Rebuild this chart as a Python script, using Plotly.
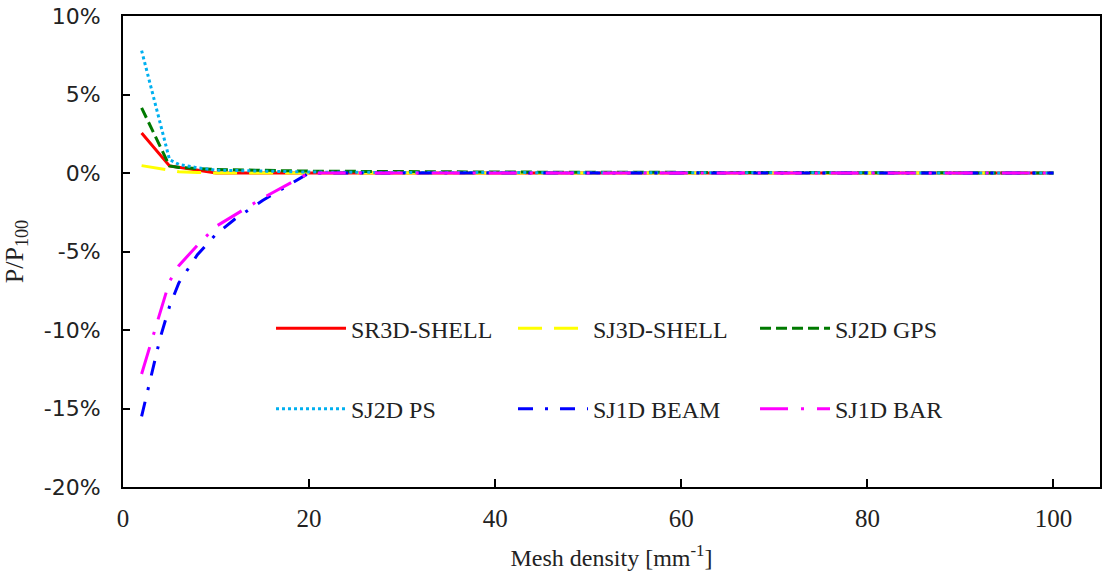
import plotly.graph_objects as go

# ---- data (percent of P100) ----
x_shell = [2, 5, 6, 8, 10, 20, 30, 40, 50, 60, 70, 80, 90, 100]
sr3d_shell = [2.55, 0.45, 0.36, 0.18, 0.0, 0.0, 0.0, 0.0, 0.0, 0.0, 0.0, 0.0, 0.0, 0.0]
sj3d_shell = [0.47, 0.15, 0.08, 0.03, 0.0, 0.0, 0.0, 0.0, 0.0, 0.0, 0.0, 0.0, 0.0, 0.0]
sj2d_gps = [4.15, 0.45, 0.35, 0.28, 0.22, 0.12, 0.08, 0.06, 0.05, 0.04, 0.03, 0.02, 0.01, 0.0]
sj2d_ps = [7.8, 0.85, 0.55, 0.33, 0.18, 0.06, 0.03, 0.02, 0.02, 0.01, 0.01, 0.0, 0.0, 0.0]

x_1d = [2, 3, 4, 5, 6, 8, 10, 12, 15, 20, 30, 40, 50, 60, 70, 80, 90, 100]
sj1d_beam = [-15.5, -13.0, -10.5, -8.5, -7.0, -5.2, -3.9, -2.95, -1.75, 0.0, 0.0, 0.0, 0.0, 0.0, 0.0, 0.0, 0.0, 0.0]
sj1d_bar = [-12.8, -10.8, -8.9, -6.9, -5.9, -4.6, -3.4, -2.7, -1.6, 0.0, 0.0, 0.0, 0.0, 0.0, 0.0, 0.0, 0.0, 0.0]

series_names = ["SR3D-SHELL", "SJ3D-SHELL", "SJ2D GPS", "SJ2D PS", "SJ1D BEAM", "SJ1D BAR"]

x_tick_vals = [0, 20, 40, 60, 80, 100]
y_tick_vals = [-20, -15, -10, -5, 0, 5, 10]
y_tick_text = ["-20%", "-15%", "-10%", "-5%", "0%", "5%", "10%"]

SERIF = "Liberation Serif"
SANS = "DejaVu Sans"

styles = [
    dict(color="#FF0000", dash="solid"),
    dict(color="#FFFF00", dash="24px,12px"),
    dict(color="#007A00", dash="11px,5px"),
    dict(color="#00B0F0", dash="3px,3px"),
    dict(color="#0000FF", dash="15px,12px,3px,12px"),
    dict(color="#FF00FF", dash="28px,13px,3px,13px"),
]
xs = [x_shell, x_shell, x_shell, x_shell, x_1d, x_1d]
ys = [sr3d_shell, sj3d_shell, sj2d_gps, sj2d_ps, sj1d_beam, sj1d_bar]
legends = ["legend", "legend", "legend", "legend2", "legend2", "legend2"]

fig = go.Figure()
for name, x, y, st, lg in zip(series_names, xs, ys, styles, legends):
    fig.add_trace(go.Scatter(
        x=x, y=y, name=name, mode="lines",
        line=dict(color=st["color"], width=3, dash=st["dash"]),
        legend=lg,
    ))

legend_common = dict(
    orientation="h", xanchor="left", yanchor="middle",
    bgcolor="rgba(0,0,0,0)", borderwidth=0,
    font=dict(family=SERIF, size=24, color="#222222"),
    itemwidth=70, entrywidth=157, entrywidthmode="pixels",
    itemclick=False, itemdoubleclick=False,
)

fig.update_layout(
    width=1102, height=576,
    margin=dict(l=123, r=2, t=16, b=89),
    paper_bgcolor="white", plot_bgcolor="white",
    showlegend=True,
    legend=dict(x=0.1515, y=0.3364, **legend_common),
    legend2=dict(x=0.1515, y=0.1654, **legend_common),
    xaxis=dict(
        range=[0, 105], tickvals=x_tick_vals, automargin=False,
        ticks="inside", ticklen=8, tickwidth=2, tickcolor="black",
        showline=True, linecolor="black", linewidth=2, mirror=True,
        showgrid=False, zeroline=False,
        tickfont=dict(family=SERIF, size=25, color="#222222"),
        ticklabelstandoff=8, ticklabeloverflow="allow",
        title=dict(text="Mesh density [mm<sup>-1</sup>]",
                   font=dict(family=SERIF, size=24, color="#222222"), standoff=18),
    ),
    yaxis=dict(
        range=[-20, 10], tickvals=y_tick_vals, ticktext=y_tick_text, automargin=False,
        ticks="inside", ticklen=7, tickwidth=2, tickcolor="black",
        showline=True, linecolor="black", linewidth=2, mirror=True,
        showgrid=False, zeroline=False,
        tickfont=dict(family=SANS, size=22, color="#222222"),
        ticklabelstandoff=16, ticklabeloverflow="allow",
        title=dict(text="P/P<sub>100</sub>",
                   font=dict(family=SERIF, size=26, color="#222222"), standoff=14),
    ),
)

# remove the browser's default 8px page margin so the figure fills the window
fig.write_html("out.html", config={"displayModeBar": False},
               post_script="document.body.style.margin='0';")
